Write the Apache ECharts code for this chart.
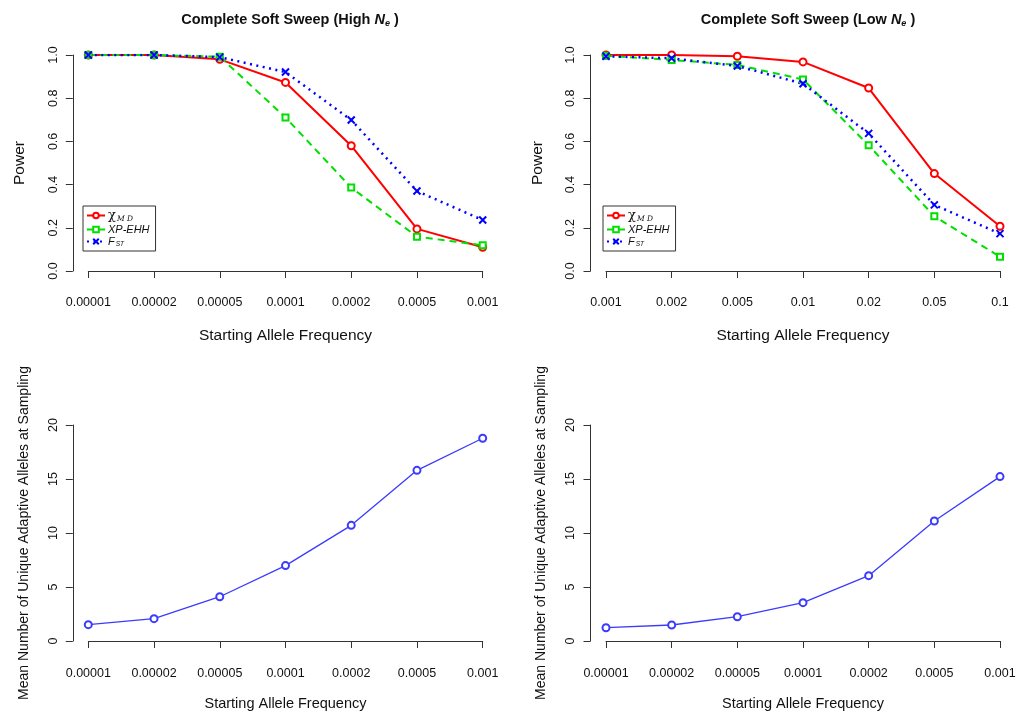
<!DOCTYPE html>
<html>
<head>
<meta charset="utf-8">
<script src="https://cdn.jsdelivr.net/npm/echarts@6/dist/echarts.min.js"></script>
<style>html,body{margin:0;padding:0;background:#fff;}#c{width:1020px;height:713px;}</style>
</head>
<body>
<div id="c"></div>
<script>
// ---- data ----
var freqHigh = ['0.00001','0.00002','0.00005','0.0001','0.0002','0.0005','0.001'];
var freqLow = ['0.001','0.002','0.005','0.01','0.02','0.05','0.1'];
var powerTicks = [0, 0.2, 0.4, 0.6, 0.8, 1.0];
var allelesTicks = [0, 5, 10, 15, 20];
var highChi = [1.0, 1.0, 0.98, 0.873, 0.58, 0.195, 0.11];
var highXp = [1.0, 1.0, 0.992, 0.711, 0.386, 0.159, 0.119];
var highFst = [1.0, 1.0, 0.99, 0.921, 0.699, 0.37, 0.236];
var lowChi = [1.0, 1.0, 0.994, 0.968, 0.847, 0.451, 0.207];
var lowXp = [0.997, 0.977, 0.954, 0.887, 0.582, 0.253, 0.066];
var lowFst = [0.994, 0.985, 0.949, 0.867, 0.637, 0.306, 0.173];
var highAlleles = [1.51, 2.07, 4.10, 6.98, 10.71, 15.80, 18.77];
var lowAlleles = [1.23, 1.48, 2.25, 3.55, 6.05, 11.11, 15.22];
var seriesNames = ['chi', 'XP-EHH', 'FST'];

var FONT = 'Liberation Sans, Arial, sans-serif';
var chart = echarts.init(document.getElementById('c'), null, {renderer: 'canvas'});

var grids = [
  {left: 88.3, top: 55, width: 394.4, height: 216},
  {left: 606, top: 55, width: 394, height: 216},
  {left: 88.3, top: 425, width: 394.4, height: 216},
  {left: 606, top: 425, width: 394, height: 216}
];
var axisLineStyle = {color: '#333', width: 1};

function xAxis(idx, cats, offset, labelMargin, nameGap, nameSize) {
  return {
    type: 'category', gridIndex: idx, data: cats, boundaryGap: false,
    offset: offset,
    axisLine: {show: true, lineStyle: axisLineStyle},
    axisTick: {show: true, length: 7, lineStyle: axisLineStyle, alignWithLabel: true},
    axisLabel: {show: true, margin: labelMargin, color: '#111', fontSize: 12.5, fontFamily: FONT, interval: 0},
    splitLine: {show: false},
    name: 'Starting Allele Frequency', nameLocation: 'middle', nameGap: nameGap,
    nameTextStyle: {color: '#111', fontSize: nameSize, fontFamily: FONT}
  };
}
function yAxis(idx, max, interval, dec, name, nameGap, nameSize) {
  return {
    type: 'value', gridIndex: idx, min: 0, max: max, interval: interval,
    offset: 15.5,
    axisLine: {show: true, lineStyle: axisLineStyle},
    axisTick: {show: true, length: 7, lineStyle: axisLineStyle},
    axisLabel: {show: true, rotate: 90, margin: 13, color: '#111', fontSize: 12.5, fontFamily: FONT,
      formatter: function (v) { return v.toFixed(dec); }},
    splitLine: {show: false},
    name: name, nameLocation: 'middle', nameGap: nameGap, nameRotate: 90,
    nameTextStyle: {color: '#111', fontSize: nameSize, fontFamily: FONT}
  };
}

var crossPath = 'path://M0,0L10,10M10,0L0,10';
function powerSeries(idx, chi, xp, fst) {
  return [
    {name: seriesNames[0], type: 'line', xAxisIndex: idx, yAxisIndex: idx, data: chi,
      symbol: 'emptyCircle', symbolSize: 7,
      lineStyle: {color: '#ff0000', width: 2, type: 'solid'},
      itemStyle: {color: '#ff0000', borderColor: '#ff0000', borderWidth: 1.5}},
    {name: seriesNames[1], type: 'line', xAxisIndex: idx, yAxisIndex: idx, data: xp,
      symbol: 'emptyRect', symbolSize: 6,
      lineStyle: {color: '#00e000', width: 2, type: [7, 5]},
      itemStyle: {color: '#00e000', borderColor: '#00e000', borderWidth: 1.5}},
    {name: seriesNames[2], type: 'line', xAxisIndex: idx, yAxisIndex: idx, data: fst,
      symbol: crossPath, symbolSize: 7,
      lineStyle: {color: '#0000ff', width: 2.5, type: [2, 4.5]},
      itemStyle: {color: '#0000ff', borderColor: '#0000ff', borderWidth: 2}}
  ];
}
function allelesSeries(idx, vals) {
  return {name: 'alleles' + idx, type: 'line', xAxisIndex: idx, yAxisIndex: idx, data: vals,
    symbol: 'emptyCircle', symbolSize: 7,
    lineStyle: {color: '#3b3bff', width: 1.3},
    itemStyle: {color: '#3b3bff', borderColor: '#3b3bff', borderWidth: 1.2}};
}

var legendRich = {
  chi: {fontFamily: 'DejaVu Serif, serif', fontSize: 13, color: '#111'},
  subChi: {fontFamily: 'DejaVu Serif, serif', fontSize: 7.5, fontStyle: 'italic', color: '#111', padding: [7, 0, 0, 1]},
  it: {fontFamily: FONT, fontSize: 11, fontStyle: 'italic', color: '#111'},
  sub: {fontFamily: FONT, fontSize: 6.5, fontStyle: 'italic', color: '#111', padding: [6, 0, 0, 1]}
};
function legendFmt(n) {
  if (n === 'chi') return '{chi|χ}{subChi|M D}';
  if (n === 'XP-EHH') return '{it|XP-EHH}';
  return '{it|F}{sub|ST}';
}
function legend(left) {
  return {
    data: seriesNames, orient: 'vertical', left: left, top: 206,
    padding: [3, 6, 3, 3], itemGap: 1, itemWidth: 18, itemHeight: 7,
    borderColor: '#333', borderWidth: 1, selectedMode: false,
    formatter: legendFmt,
    textStyle: {rich: legendRich, fontFamily: FONT, padding: [0, 0, 0, -2]}
  };
}

var titleRich = {
  b: {fontFamily: FONT, fontWeight: 'bold', fontSize: 14.5, color: '#111'},
  i: {fontFamily: FONT, fontWeight: 'bold', fontStyle: 'italic', fontSize: 14.5, color: '#111'},
  s: {fontFamily: FONT, fontWeight: 'bold', fontStyle: 'italic', fontSize: 9, color: '#111', padding: [8, 0, 0, 0]}
};

var option = {
  animation: false,
  backgroundColor: '#ffffff',
  title: [
    {text: '{b|Complete Soft Sweep (High }{i|N}{s|e}{b| )}', left: 285, top: 6, textAlign: 'center',
      textStyle: {rich: titleRich}},
    {text: '{b|Complete Soft Sweep (Low }{i|N}{s|e}{b| )}', left: 803, top: 6, textAlign: 'center',
      textStyle: {rich: titleRich}}
  ],
  legend: [legend(83), legend(603)],
  grid: grids,
  xAxis: [
    xAxis(0, freqHigh, 8, 17, 49, 15.5),
    xAxis(1, freqLow, 8, 17, 49, 15.5),
    xAxis(2, freqHigh, 9, 17, 46, 14.5),
    xAxis(3, freqHigh, 9, 17, 46, 14.5)
  ],
  yAxis: [
    yAxis(0, 1, 0.2, 1, 'Power', 45, 15.5),
    yAxis(1, 1, 0.2, 1, 'Power', 45, 15.5),
    yAxis(2, 20, 5, 0, 'Mean Number of Unique Adaptive Alleles at Sampling', 42, 14),
    yAxis(3, 20, 5, 0, 'Mean Number of Unique Adaptive Alleles at Sampling', 42, 14)
  ],
  series: [].concat(
    powerSeries(0, highChi, highXp, highFst),
    powerSeries(1, lowChi, lowXp, lowFst),
    [allelesSeries(2, highAlleles), allelesSeries(3, lowAlleles)]
  )
};
chart.setOption(option);
</script>
</body>
</html>
